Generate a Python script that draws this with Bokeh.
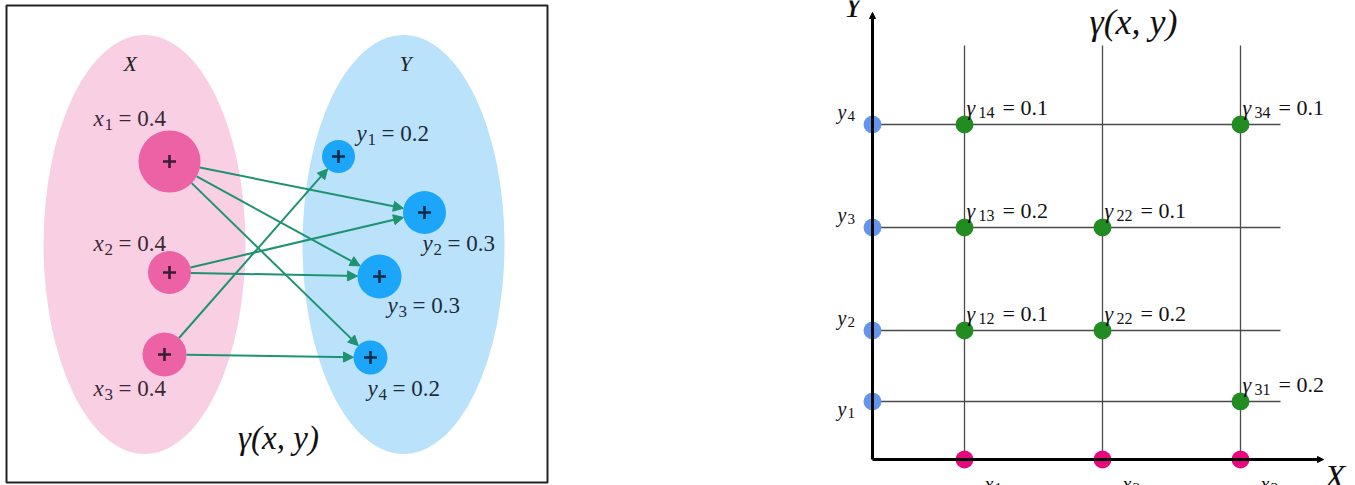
import math
from bokeh.plotting import figure
from bokeh.models import Range1d, Arrow, NormalHead, ColumnDataSource
from bokeh.core.properties import value
from bokeh.embed import file_html
from bokeh.resources import INLINE

# ---------------- data ----------------
x_subs = ["1", "2", "3"]
x_probs = [0.4, 0.4, 0.4]
y_subs = ["1", "2", "3", "4"]
y_probs = [0.2, 0.3, 0.3, 0.2]
# transport arrows of the left diagram (source x index -> target y index)
flow_from = [1, 1, 1, 2, 2, 3, 3]
flow_to = [2, 3, 4, 2, 3, 1, 4]
# couplings on the right grid
gamma_i = [1, 3, 1, 2, 1, 2, 3]
gamma_j = [4, 4, 3, 3, 2, 2, 1]
gamma_subs = ["14", "34", "13", "22", "12", "22", "31"]
gamma_values = [0.1, 0.1, 0.2, 0.1, 0.1, 0.2, 0.2]

# ---------------- layout (page pixels) ----------------
W, H = 1355, 485
p = figure(width=W, height=H, x_range=Range1d(0, W), y_range=Range1d(H, 0),
           output_backend="svg", toolbar_location=None, min_border=0)
p.axis.visible = False
p.grid.visible = False
p.outline_line_color = None

SERIF = value('"Liberation Serif"')
TDY = -7  # text baseline correction

# label pieces
pieces = {k: dict(x=[], y=[], t=[], s=[], c=[]) for k in ("it", "sub", "rest")}


def add(kind, x, y, t, s, c):
    d = pieces[kind]
    d["x"].append(x); d["y"].append(y + TDY); d["t"].append(t); d["s"].append(f"{s}px"); d["c"].append(c)


def label(x, y, letter, sub, rest, S, color, sub_dx, rest_dx):
    add("it", x, y, letter, S, color)
    add("sub", x + sub_dx, y + 0.24 * S, sub, round(0.74 * S), color)
    if rest:
        add("rest", x + rest_dx, y, rest, S, color)


# ---------- left panel ----------
LX_C = [(169, 161), (169, 272), (164, 354)]
LX_R = [31, 21.5, 22]
LY_C = [(338, 156), (424, 212), (379, 276), (370, 357)]
LY_R = [16.5, 21.5, 22, 17]
LX_LAB = [(93, 125), (93, 250), (93, 395)]
LY_LAB = [(356, 140), (422, 250), (387, 312), (367, 395)]

p.quad(left=6, right=547, top=5, bottom=482, fill_color=None, line_color="#222222", line_width=2)
p.ellipse(x=[144, 403], y=[244, 244], width=[202, 202], height=[419, 419],
          fill_color=["#F9CFE3", "#BAE2FA"], line_color=None)

p.circle(x=[c[0] for c in LX_C], y=[c[1] for c in LX_C], radius=LX_R, fill_color="#EC62A5", line_color=None)
p.circle(x=[c[0] for c in LY_C], y=[c[1] for c in LY_C], radius=LY_R, fill_color="#1CA6FA", line_color=None)
p.scatter(x=[c[0] for c in LX_C], y=[c[1] for c in LX_C], marker="cross", size=13, line_width=2.6, line_color="#3b1d33")
p.scatter(x=[c[0] for c in LY_C], y=[c[1] for c in LY_C], marker="cross", size=13, line_width=2.6, line_color="#0f2a44")

xs0, ys0, xs1, ys1 = [], [], [], []
for a, b in zip(flow_from, flow_to):
    (ax, ay), ra = LX_C[a - 1], LX_R[a - 1]
    (bx, by), rb = LY_C[b - 1], LY_R[b - 1]
    dx, dy = bx - ax, by - ay
    L = math.hypot(dx, dy)
    ux, uy = dx / L, dy / L
    xs0.append(ax + ra * ux); ys0.append(ay + ra * uy)
    xs1.append(bx - rb * ux); ys1.append(by - rb * uy)
asrc = ColumnDataSource(dict(x0=xs0, y0=ys0, x1=xs1, y1=ys1))
p.add_layout(Arrow(x_start="x0", y_start="y0", x_end="x1", y_end="y1", source=asrc,
                   line_color="#1f9371", line_width=2,
                   end=NormalHead(size=10, fill_color="#1f9371", line_color="#1f9371")))

LEFT_COL = "#3a2836"
RIGHT_COL = "#1d2b3a"
for (lx, ly), s, v in zip(LX_LAB, x_subs, x_probs):
    label(lx, ly, "x", s, f"= {v}", 23, LEFT_COL, 11, 25)
for (lx, ly), s, v in zip(LY_LAB, y_subs, y_probs):
    label(lx, ly, "y", s, f"= {v}", 23, RIGHT_COL, 11, 25)
add("it", 123, 70, "X", 22, "#222222")
add("it", 399, 70, "Y", 22, "#222222")

# ---------- right panel ----------
AX0, AY0 = 872, 459
GX = [964, 1102, 1240]
GY = [401, 330, 227, 124]
RIGHT_END = 1280
TOP_END = 45

p.segment(x0=GX, y0=[TOP_END] * 3, x1=GX, y1=[AY0] * 3, line_color="#4a4a4a", line_width=1.3)
p.segment(x0=[AX0] * 4, y0=GY, x1=[RIGHT_END] * 4, y1=GY, line_color="#4a4a4a", line_width=1.3)
p.add_layout(Arrow(x_start=AX0, y_start=AY0, x_end=AX0, y_end=12, line_color="black", line_width=3,
                   end=NormalHead(size=6, fill_color="black", line_color="black")))
p.add_layout(Arrow(x_start=AX0, y_start=AY0, x_end=1323, y_end=AY0, line_color="black", line_width=3,
                   end=NormalHead(size=6, fill_color="black", line_color="black")))

p.circle(x=[AX0] * len(y_probs), y=GY, radius=9, fill_color="#6495ED", line_color=None)
p.circle(x=GX, y=[AY0] * len(x_probs), radius=9, fill_color="#E8077D", line_color=None)
p.circle(x=[GX[i - 1] for i in gamma_i], y=[GY[j - 1] for j in gamma_j], radius=9,
         fill_color="#228B22", line_color=None)

for i, j, s, v in zip(gamma_i, gamma_j, gamma_subs, gamma_values):
    label(GX[i - 1] + 2, GY[j - 1] - 10, "γ", s, f"= {v}", 22, "#111111", 12, 36)
for k, s in enumerate(y_subs):
    by = GY[k] + 14 if k == 0 else GY[k] - 6
    label(837, by, "y", s, "", 20, "#111111", 10, 0)
for k, s in enumerate(x_subs):
    label(GX[k] + 20, 490, "x", s, "", 20, "#111111", 10, 0)

add("it", 1324, 483, "X", 34, "#111111")
add("it", 843, 12, "Y", 34, "#111111")

# titles
p.text(x=[278, 1133], y=[444 + TDY, 28 + TDY], text=["γ(x, y)", "γ(x, y)"], text_font=SERIF,
       text_font_style="italic", text_font_size=["33px", "36px"], text_align="center",
       text_baseline="alphabetic", text_color="#111111")

for kind, style in (("it", "italic"), ("sub", "normal"), ("rest", "normal")):
    d = pieces[kind]
    src = ColumnDataSource(dict(x=d["x"], y=d["y"], t=d["t"], s=d["s"], c=d["c"]))
    p.text(x="x", y="y", text="t", text_font_size="s", text_color="c", source=src,
           text_font=SERIF, text_font_style=style, text_align="left", text_baseline="alphabetic")

open("out.html", "w").write(file_html(p, INLINE))
